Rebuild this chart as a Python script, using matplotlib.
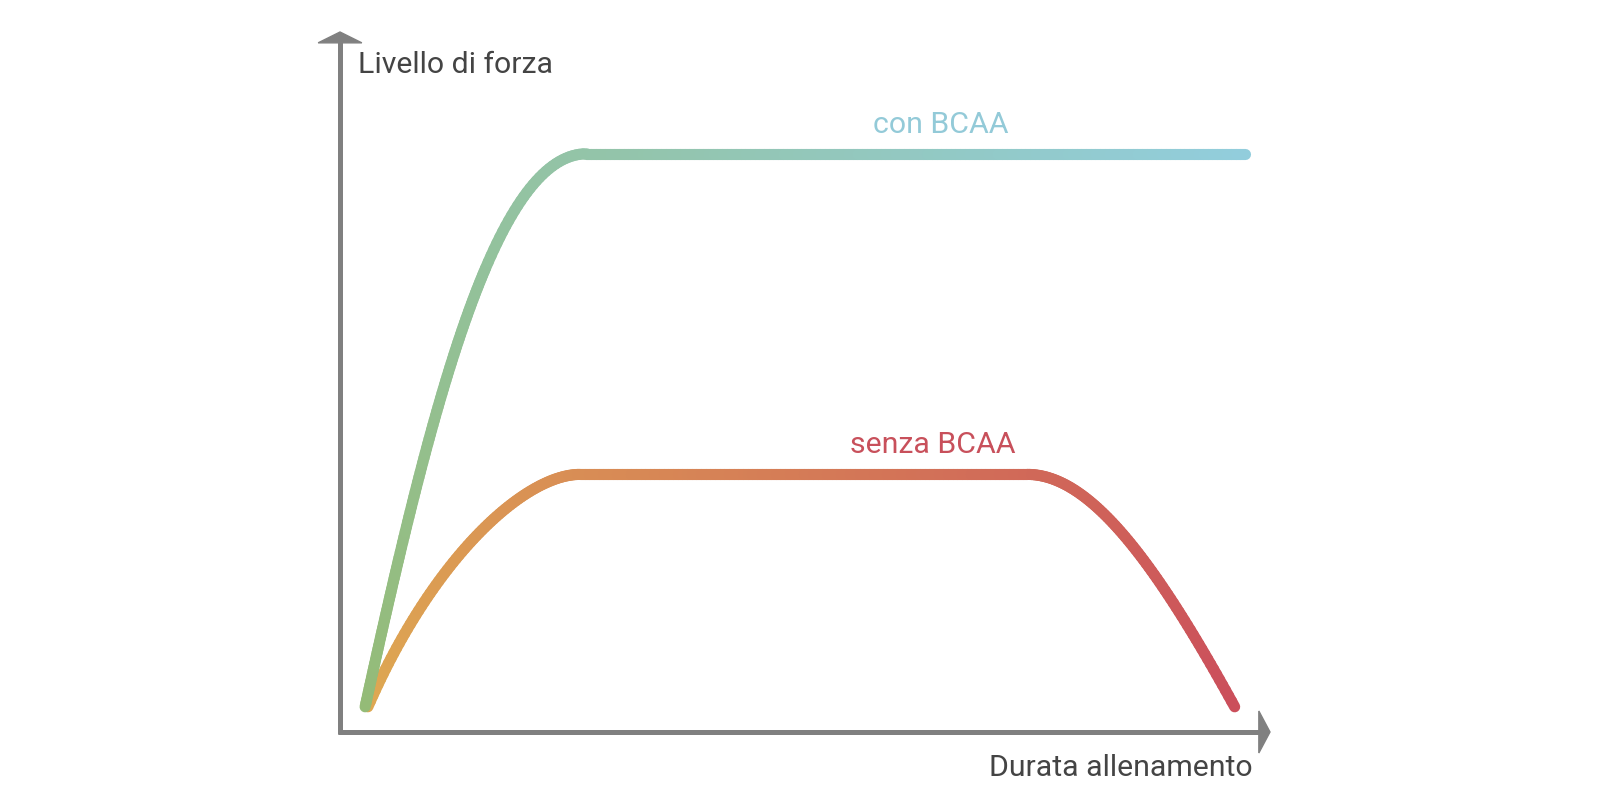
import numpy as np
import matplotlib
matplotlib.use('Agg')
import matplotlib.pyplot as plt
from matplotlib.path import Path
from matplotlib.collections import LineCollection
from matplotlib.patches import Polygon
from matplotlib.colors import LinearSegmentedColormap

plt.rcParams['font.family'] = ['Roboto', 'DejaVu Sans']

# curve control points (x = durata, y = livello di forza), cubic Bezier + straight plateaus
con_x = [2.7, 9.5, 16.5, 26.5, 97.3]
con_y = [3.6, 44.6, 82.6, 82.6, 82.6]
senza_x = [3.0, 10.0, 19.9, 25.8, 73.9, 80.6, 87.5, 96.2]
senza_y = [3.6, 25.0, 36.8, 36.8, 36.8, 36.8, 24.6, 3.6]

con_codes = [Path.MOVETO, Path.CURVE4, Path.CURVE4, Path.CURVE4, Path.LINETO]
senza_codes = [Path.MOVETO, Path.CURVE4, Path.CURVE4, Path.CURVE4, Path.LINETO,
               Path.CURVE4, Path.CURVE4, Path.CURVE4]

con_colors = ['#94bb77', '#92cddc']
senza_colors = ['#dea852', '#cb4f5b']

labels = ['con BCAA', 'senza BCAA']
label_colors = ['#93cad8', '#c8505b']
x_label = 'Durata allenamento'
y_label = 'Livello di forza'

axis_col = '#808080'
text_col = '#444444'

fig = plt.figure(figsize=(16, 8.01), dpi=100)
ax = fig.add_axes([340 / 1600, 69 / 801, 930 / 1600, 700 / 801])
ax.set_xlim(0, 100)
ax.set_ylim(0, 100)
ax.axis('off')


def sample_path(xs, ys, codes):
    path = Path(np.column_stack([xs, ys]), codes)
    pts = []
    for seg, code in path.iter_bezier():
        n = 2 if code == Path.LINETO else 80
        p = seg(np.linspace(0, 1, n))
        if pts:
            p = p[1:]
        pts.append(p)
    return np.vstack(pts)


def draw_gradient(xs, ys, codes, cols, z):
    pts = sample_path(xs, ys, codes)
    # refine straight parts so the gradient is smooth along them
    dense = [pts[0]]
    for a, b in zip(pts[:-1], pts[1:]):
        d = np.hypot(b[0] - a[0], b[1] - a[1])
        k = max(1, int(d / 0.5))
        for t in np.linspace(0, 1, k + 1)[1:]:
            dense.append(a + (b - a) * t)
    pts = np.array(dense)
    disp = ax.transData.transform(pts)
    seglen = np.hypot(*np.diff(disp, axis=0).T)
    s = np.concatenate([[0], np.cumsum(seglen)])
    s = s / s[-1]
    segs = np.stack([pts[:-1], pts[1:]], axis=1)
    cmap = LinearSegmentedColormap.from_list('g', cols)
    lc = LineCollection(segs, colors=cmap((s[:-1] + s[1:]) / 2), linewidths=8.0,
                        capstyle='round', joinstyle='round', zorder=z, clip_on=False)
    ax.add_collection(lc)


draw_gradient(senza_x, senza_y, senza_codes, senza_colors, 3)
draw_gradient(con_x, con_y, con_codes, con_colors, 4)

# axes with arrows
ax.plot([0, 0], [-0.3, 98.6], color=axis_col, lw=3.6, solid_capstyle='butt', clip_on=False, zorder=2)
ax.plot([-0.25, 98.9], [0, 0], color=axis_col, lw=3.6, solid_capstyle='butt', clip_on=False, zorder=2)
ax.add_patch(Polygon([[-2.35, 98.45], [2.35, 98.45], [0, 100]], closed=True,
                     color=axis_col, clip_on=False, zorder=2))
ax.add_patch(Polygon([[98.8, -3.0], [98.8, 3.0], [100, 0]], closed=True,
                     color=axis_col, clip_on=False, zorder=2))

fs = 21.8
ax.text(1.9, 94.2, y_label, fontsize=fs, color=text_col, ha='left', va='baseline')
ax.text(98.1, -6.3, x_label, fontsize=fs, color=text_col, ha='right', va='baseline')
ax.text(64.6, 85.6, labels[0], fontsize=fs, color=label_colors[0], ha='center', va='baseline')
ax.text(63.7, 39.9, labels[1], fontsize=fs, color=label_colors[1], ha='center', va='baseline')

fig.savefig('out.png', dpi=100, facecolor='white')
